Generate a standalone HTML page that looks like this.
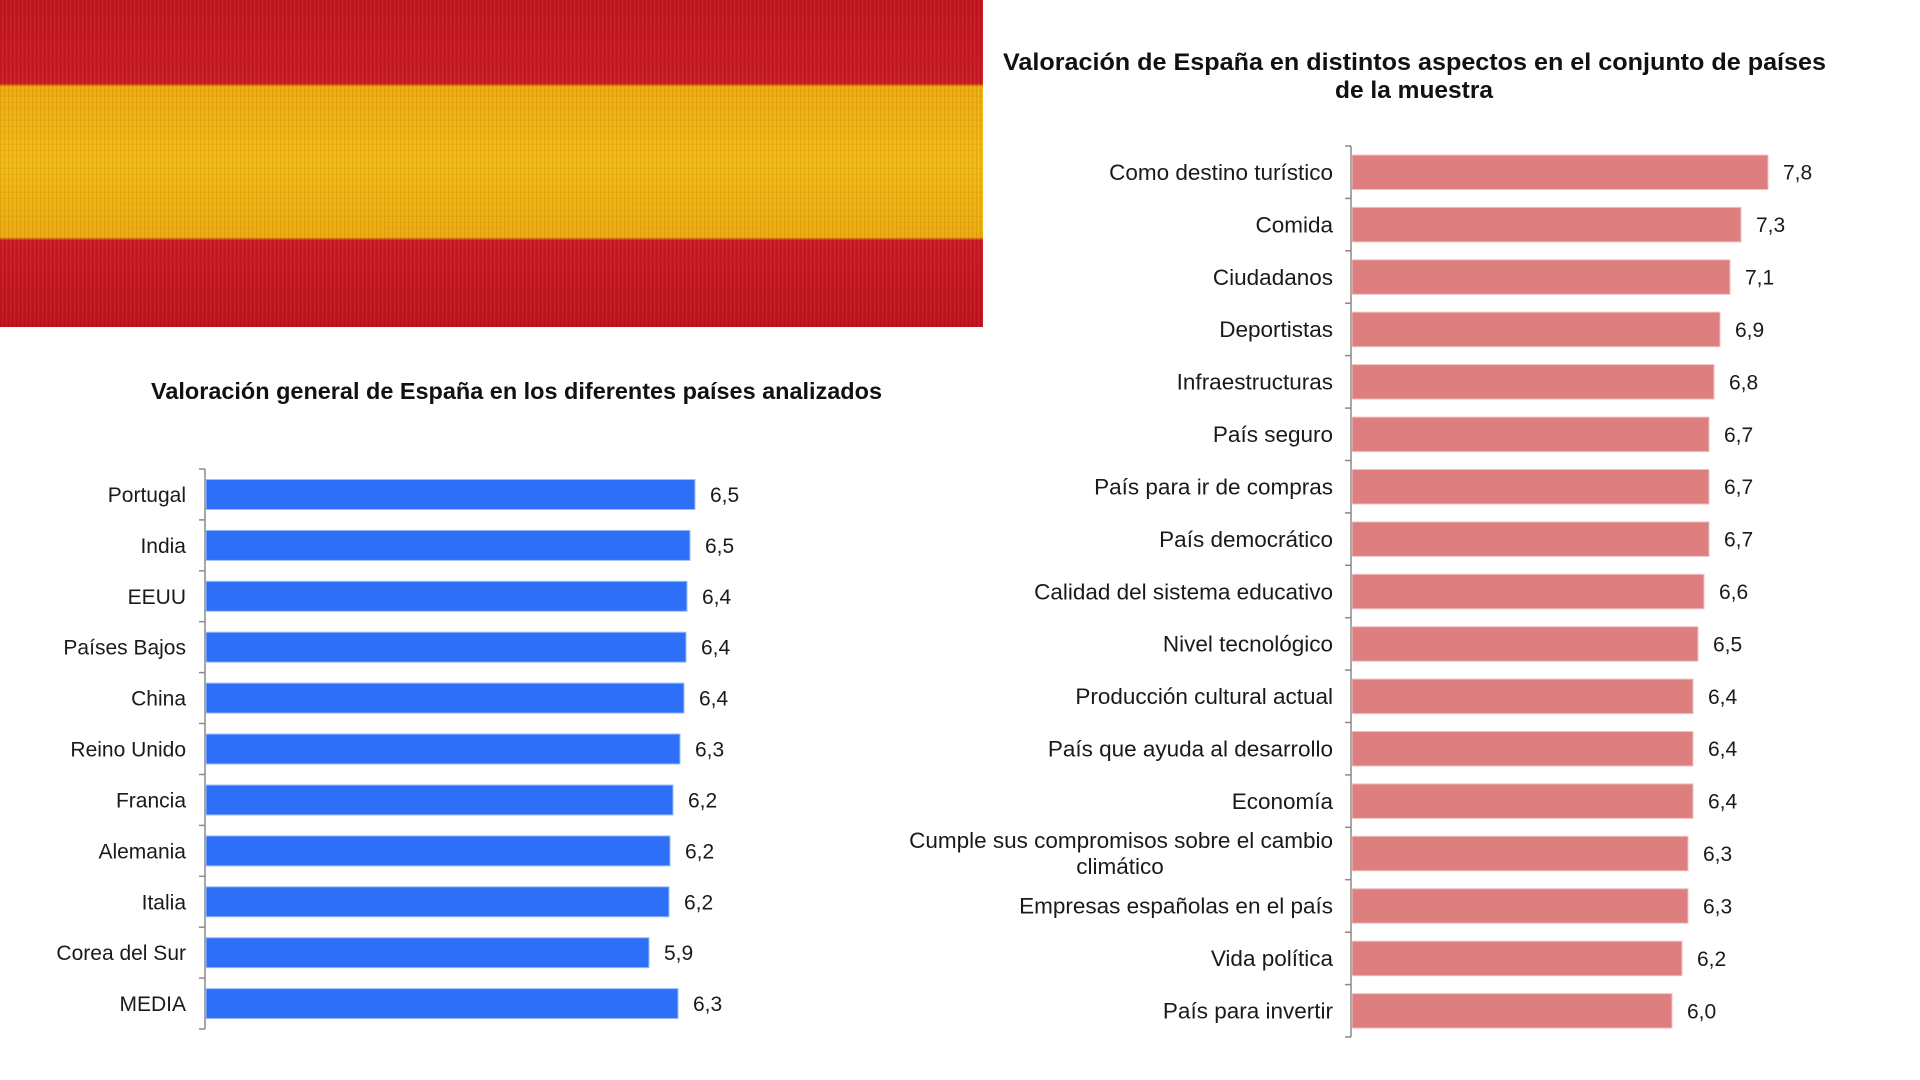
<!DOCTYPE html>
<html>
<head>
<meta charset="utf-8">
<style>
html,body{margin:0;padding:0;background:#fff;}
svg{display:block;}
text{font-family:"Liberation Sans",Arial,sans-serif;fill:#1a1a1a;}
.lab{font-size:21px;}
.labr{font-size:22.5px;}
.val{font-size:21px;}
.ttl{font-size:23px;font-weight:bold;fill:#111;}
</style>
</head>
<body>
<svg width="1920" height="1080" viewBox="0 0 1920 1080" xmlns="http://www.w3.org/2000/svg">
<defs>
  <pattern id="weave" width="4" height="6" patternUnits="userSpaceOnUse">
    <rect x="0" y="0" width="1.3" height="6" fill="#000" opacity="0.07"/>
    <rect x="2" y="0" width="1" height="6" fill="#fff" opacity="0.05"/>
    <rect x="0" y="0" width="4" height="1" fill="#000" opacity="0.03"/>
  </pattern>
  <linearGradient id="fl" x1="0" y1="0" x2="0" y2="1">
    <stop offset="0" stop-color="#c8141f"/>
    <stop offset="0.255" stop-color="#cf1a22"/>
    <stop offset="0.265" stop-color="#f1ad0c"/>
    <stop offset="0.5" stop-color="#f6ba10"/>
    <stop offset="0.725" stop-color="#f0ac0a"/>
    <stop offset="0.735" stop-color="#cf1a22"/>
    <stop offset="1" stop-color="#c5121d"/>
  </linearGradient>
</defs>

<!-- Flag ribbon -->
<rect x="0" y="0" width="983" height="327" fill="url(#fl)"/>
<rect x="0" y="0" width="983" height="327" fill="url(#weave)"/>

<!-- Left chart title -->
<text class="ttl" x="151" y="399" textLength="731" lengthAdjust="spacingAndGlyphs">Valoración general de España en los diferentes países analizados</text>

<!-- Left chart axis -->
<g stroke="#8a8a8a" stroke-width="1.5" fill="none">
  <line x1="205" y1="469" x2="205" y2="1029"/>
  <line x1="199" y1="469" x2="205" y2="469"/>
  <line x1="199" y1="519.9" x2="205" y2="519.9"/>
  <line x1="199" y1="570.8" x2="205" y2="570.8"/>
  <line x1="199" y1="621.7" x2="205" y2="621.7"/>
  <line x1="199" y1="672.6" x2="205" y2="672.6"/>
  <line x1="199" y1="723.5" x2="205" y2="723.5"/>
  <line x1="199" y1="774.5" x2="205" y2="774.5"/>
  <line x1="199" y1="825.4" x2="205" y2="825.4"/>
  <line x1="199" y1="876.3" x2="205" y2="876.3"/>
  <line x1="199" y1="927.2" x2="205" y2="927.2"/>
  <line x1="199" y1="978.1" x2="205" y2="978.1"/>
  <line x1="199" y1="1029" x2="205" y2="1029"/>
</g>

<!-- Left bars -->
<g fill="#2e6ff7" stroke="#9cc0fb" stroke-width="1">
  <rect x="206" y="479.5" width="489" height="30"/>
  <rect x="206" y="530.4" width="484" height="30"/>
  <rect x="206" y="581.3" width="481" height="30"/>
  <rect x="206" y="632.2" width="480" height="30"/>
  <rect x="206" y="683.1" width="478" height="30"/>
  <rect x="206" y="734" width="474" height="30"/>
  <rect x="206" y="785" width="467" height="30"/>
  <rect x="206" y="835.9" width="464" height="30"/>
  <rect x="206" y="886.8" width="463" height="30"/>
  <rect x="206" y="937.7" width="443" height="30"/>
  <rect x="206" y="988.6" width="472" height="30"/>
</g>

<!-- Left labels -->
<g class="lab" text-anchor="end">
  <text x="186" y="502">Portugal</text>
  <text x="186" y="552.9">India</text>
  <text x="186" y="603.8">EEUU</text>
  <text x="186" y="654.7">Países Bajos</text>
  <text x="186" y="705.6">China</text>
  <text x="186" y="756.5">Reino Unido</text>
  <text x="186" y="807.5">Francia</text>
  <text x="186" y="858.4">Alemania</text>
  <text x="186" y="909.3">Italia</text>
  <text x="186" y="960.2">Corea del Sur</text>
  <text x="186" y="1011.1">MEDIA</text>
</g>

<!-- Left values -->
<g class="val">
  <text x="710" y="502">6,5</text>
  <text x="705" y="552.9">6,5</text>
  <text x="702" y="603.8">6,4</text>
  <text x="701" y="654.7">6,4</text>
  <text x="699" y="705.6">6,4</text>
  <text x="695" y="756.5">6,3</text>
  <text x="688" y="807.5">6,2</text>
  <text x="685" y="858.4">6,2</text>
  <text x="684" y="909.3">6,2</text>
  <text x="664" y="960.2">5,9</text>
  <text x="693" y="1011.1">6,3</text>
</g>

<!-- Right chart title -->
<text class="ttl" x="1003" y="70" textLength="823" lengthAdjust="spacingAndGlyphs" style="font-size:24.5px">Valoración de España en distintos aspectos en el conjunto de países</text>
<text class="ttl" x="1414" y="98" text-anchor="middle" style="font-size:24.5px">de la muestra</text>

<!-- Right axis -->
<g stroke="#8a8a8a" stroke-width="1.5" fill="none">
  <line x1="1351" y1="146" x2="1351" y2="1037"/>
  <line x1="1345" y1="146" x2="1351" y2="146"/>
  <line x1="1345" y1="198.4" x2="1351" y2="198.4"/>
  <line x1="1345" y1="250.8" x2="1351" y2="250.8"/>
  <line x1="1345" y1="303.2" x2="1351" y2="303.2"/>
  <line x1="1345" y1="355.6" x2="1351" y2="355.6"/>
  <line x1="1345" y1="408.1" x2="1351" y2="408.1"/>
  <line x1="1345" y1="460.5" x2="1351" y2="460.5"/>
  <line x1="1345" y1="512.9" x2="1351" y2="512.9"/>
  <line x1="1345" y1="565.3" x2="1351" y2="565.3"/>
  <line x1="1345" y1="617.7" x2="1351" y2="617.7"/>
  <line x1="1345" y1="670.1" x2="1351" y2="670.1"/>
  <line x1="1345" y1="722.5" x2="1351" y2="722.5"/>
  <line x1="1345" y1="774.9" x2="1351" y2="774.9"/>
  <line x1="1345" y1="827.3" x2="1351" y2="827.3"/>
  <line x1="1345" y1="879.7" x2="1351" y2="879.7"/>
  <line x1="1345" y1="932.2" x2="1351" y2="932.2"/>
  <line x1="1345" y1="984.6" x2="1351" y2="984.6"/>
  <line x1="1345" y1="1037" x2="1351" y2="1037"/>
</g>

<!-- Right bars -->
<g fill="#de7f7f" stroke="#f0c2c2" stroke-width="1">
  <rect x="1352" y="155" width="416" height="34.5"/>
  <rect x="1352" y="207.4" width="389" height="34.5"/>
  <rect x="1352" y="259.8" width="378" height="34.5"/>
  <rect x="1352" y="312.2" width="368" height="34.5"/>
  <rect x="1352" y="364.6" width="362" height="34.5"/>
  <rect x="1352" y="417.1" width="357" height="34.5"/>
  <rect x="1352" y="469.5" width="357" height="34.5"/>
  <rect x="1352" y="521.9" width="357" height="34.5"/>
  <rect x="1352" y="574.3" width="352" height="34.5"/>
  <rect x="1352" y="626.7" width="346" height="34.5"/>
  <rect x="1352" y="679.1" width="341" height="34.5"/>
  <rect x="1352" y="731.5" width="341" height="34.5"/>
  <rect x="1352" y="783.9" width="341" height="34.5"/>
  <rect x="1352" y="836.3" width="336" height="34.5"/>
  <rect x="1352" y="888.7" width="336" height="34.5"/>
  <rect x="1352" y="941.2" width="330" height="34.5"/>
  <rect x="1352" y="993.6" width="320" height="34.5"/>
</g>

<!-- Right labels -->
<g class="labr" text-anchor="end">
  <text x="1333" y="180">Como destino turístico</text>
  <text x="1333" y="232.4">Comida</text>
  <text x="1333" y="284.8">Ciudadanos</text>
  <text x="1333" y="337.2">Deportistas</text>
  <text x="1333" y="389.6">Infraestructuras</text>
  <text x="1333" y="442.1">País seguro</text>
  <text x="1333" y="494.5">País para ir de compras</text>
  <text x="1333" y="546.9">País democrático</text>
  <text x="1333" y="599.3">Calidad del sistema educativo</text>
  <text x="1333" y="651.7">Nivel tecnológico</text>
  <text x="1333" y="704.1">Producción cultural actual</text>
  <text x="1333" y="756.5">País que ayuda al desarrollo</text>
  <text x="1333" y="808.9">Economía</text>
  <text x="1333" y="848">Cumple sus compromisos sobre el cambio</text>
  <text x="1333" y="913.7">Empresas españolas en el país</text>
  <text x="1333" y="966.2">Vida política</text>
  <text x="1333" y="1018.6">País para invertir</text>
</g>
<text class="labr" x="1120" y="874" text-anchor="middle">climático</text>

<!-- Right values -->
<g class="val">
  <text x="1783" y="179.7">7,8</text>
  <text x="1756" y="232.1">7,3</text>
  <text x="1745" y="284.5">7,1</text>
  <text x="1735" y="336.9">6,9</text>
  <text x="1729" y="389.3">6,8</text>
  <text x="1724" y="441.8">6,7</text>
  <text x="1724" y="494.2">6,7</text>
  <text x="1724" y="546.6">6,7</text>
  <text x="1719" y="599">6,6</text>
  <text x="1713" y="651.4">6,5</text>
  <text x="1708" y="703.8">6,4</text>
  <text x="1708" y="756.2">6,4</text>
  <text x="1708" y="808.6">6,4</text>
  <text x="1703" y="861">6,3</text>
  <text x="1703" y="913.4">6,3</text>
  <text x="1697" y="965.9">6,2</text>
  <text x="1687" y="1018.3">6,0</text>
</g>
</svg>
</body>
</html>
